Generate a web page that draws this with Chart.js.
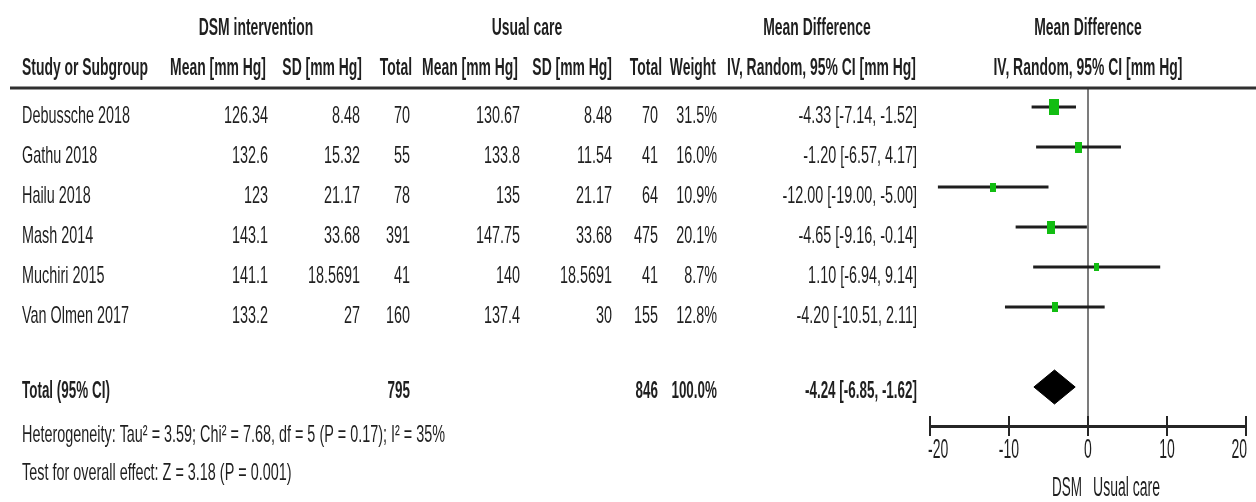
<!DOCTYPE html>
<html>
<head>
<meta charset="utf-8">
<title>DSM intervention vs usual care – mean difference</title>
<script src="https://cdn.jsdelivr.net/npm/chart.js@4.4.1/dist/chart.umd.min.js"></script>
<style>
  html, body { margin: 0; padding: 0; background: #ffffff; }
  #wrap { width: 1256px; height: 502px; position: relative; }
</style>
</head>
<body>
<div id="wrap"><canvas id="forest" width="1256" height="502"></canvas></div>
<script>
// ---- Study data (systolic blood pressure, mm Hg) ----
const studies   = ['Debussche 2018', 'Gathu 2018', 'Hailu 2018', 'Mash 2014', 'Muchiri 2015', 'Van Olmen 2017'];
const dsmMean   = ['126.34', '132.6', '123', '143.1', '141.1', '133.2'];
const dsmSD     = ['8.48', '15.32', '21.17', '33.68', '18.5691', '27'];
const dsmTotal  = [70, 55, 78, 391, 41, 160];
const ucMean    = ['130.67', '133.8', '135', '147.75', '140', '137.4'];
const ucSD      = ['8.48', '11.54', '21.17', '33.68', '18.5691', '30'];
const ucTotal   = [70, 41, 64, 475, 41, 155];
const weights   = [31.5, 16.0, 10.9, 20.1, 8.7, 12.8];
const md        = [-4.33, -1.20, -12.00, -4.65, 1.10, -4.20];
const ciLow     = [-7.14, -6.57, -19.00, -9.16, -6.94, -10.51];
const ciHigh    = [-1.52, 4.17, -5.00, -0.14, 9.14, 2.11];

// ---- Pooled estimate ----
const pooledDsmTotal = 795;
const pooledUcTotal  = 846;
const pooledWeight   = 100.0;
const pooledMD       = -4.24;
const pooledLow      = -6.85;
const pooledHigh     = -1.62;

// ---- Axis ----
const xTicks = [-20, -10, 0, 10, 20];
const favoursLeft  = 'DSM';
const favoursRight = 'Usual care';

const heterogeneityText = 'Heterogeneity: Tau² = 3.59; Chi² = 7.68, df = 5 (P = 0.17); I² = 35%';
const overallText       = 'Test for overall effect: Z = 3.18 (P = 0.001)';

// ---- Styling ----
const TEXT = '#1f1f1f';
const GREEN = '#12bd12';
const FONT = '"Liberation Sans", Arial, sans-serif';
const TOTAL_ROW = 7;          // y position of the pooled row
const DIAMOND_HALF = 0.425;   // half height of the pooled diamond, in row units

function fmt2(v) { return v.toFixed(2); }
function ciText(m, lo, hi) { return fmt2(m) + ' [' + fmt2(lo) + ', ' + fmt2(hi) + ']'; }

// green weight boxes: area grows with the study weight
function weightBox(w) {
  const h = Math.round(2.8 * Math.sqrt(w));
  const wd = Math.max(5, Math.round(1.7 * Math.sqrt(w)));
  const c = document.createElement('canvas');
  c.width = wd; c.height = h;
  const g = c.getContext('2d');
  g.fillStyle = GREEN;
  g.fillRect(0, 0, wd, h);
  return c;
}

// condensed text helper
function txt(ctx, s, x, y, align, size, bold, sx) {
  ctx.save();
  ctx.font = (bold ? 'bold ' : '') + size + 'px ' + FONT;
  ctx.textBaseline = 'middle';
  ctx.textAlign = 'left';
  ctx.fillStyle = TEXT;
  const w = ctx.measureText(s).width * sx;
  const x0 = align === 'right' ? x - w : (align === 'center' ? x - w / 2 : x);
  ctx.translate(x0, y);
  ctx.scale(sx, 1);
  ctx.fillText(s, 0, 0);
  ctx.restore();
}

const tablePlugin = {
  id: 'forestTable',
  afterDraw(chart) {
    const ctx = chart.ctx;
    const xs = chart.scales.x;
    const ys = chart.scales.y;
    const area = chart.chartArea;
    const zero = xs.getPixelForValue(0);
    const HS = 24, HX = 0.58;   // header font
    const RS = 24, RX = 0.6;    // row font

    // column headers
    txt(ctx, 'DSM intervention', 256, 28, 'center', HS, true, HX);
    txt(ctx, 'Usual care', 527, 28, 'center', HS, true, HX);
    txt(ctx, 'Mean Difference', 817, 28, 'center', HS, true, HX);
    txt(ctx, 'Mean Difference', zero, 28, 'center', HS, true, HX);

    const hy = 68;
    txt(ctx, 'Study or Subgroup', 22, hy, 'left', HS, true, HX);
    txt(ctx, 'Mean [mm Hg]', 266, hy, 'right', HS, true, HX);
    txt(ctx, 'SD [mm Hg]', 362, hy, 'right', HS, true, HX);
    txt(ctx, 'Total', 412, hy, 'right', HS, true, HX);
    txt(ctx, 'Mean [mm Hg]', 518, hy, 'right', HS, true, HX);
    txt(ctx, 'SD [mm Hg]', 612, hy, 'right', HS, true, HX);
    txt(ctx, 'Total', 662, hy, 'right', HS, true, HX);
    txt(ctx, 'Weight', 716, hy, 'right', HS, true, HX);
    txt(ctx, 'IV, Random, 95% CI [mm Hg]', 916, hy, 'right', HS, true, HX);
    txt(ctx, 'IV, Random, 95% CI [mm Hg]', zero, hy, 'center', HS, true, HX);

    // rule under the headers
    ctx.save();
    ctx.strokeStyle = '#303030';
    ctx.lineWidth = 3;
    ctx.beginPath();
    ctx.moveTo(10, area.top);
    ctx.lineTo(1256, area.top);
    ctx.stroke();
    ctx.restore();

    // study rows
    studies.forEach((name, i) => {
      const y = ys.getPixelForValue(i) + 9;
      txt(ctx, name, 22, y, 'left', RS, false, RX);
      txt(ctx, dsmMean[i], 268, y, 'right', RS, false, RX);
      txt(ctx, dsmSD[i], 360, y, 'right', RS, false, RX);
      txt(ctx, String(dsmTotal[i]), 410, y, 'right', RS, false, RX);
      txt(ctx, ucMean[i], 520, y, 'right', RS, false, RX);
      txt(ctx, ucSD[i], 612, y, 'right', RS, false, RX);
      txt(ctx, String(ucTotal[i]), 658, y, 'right', RS, false, RX);
      txt(ctx, weights[i].toFixed(1) + '%', 717, y, 'right', RS, false, RX);
      txt(ctx, ciText(md[i], ciLow[i], ciHigh[i]), 917, y, 'right', RS, false, RX);
    });

    // pooled row
    const ty = ys.getPixelForValue(TOTAL_ROW) + 4;
    txt(ctx, 'Total (95% CI)', 22, ty, 'left', RS, true, 0.56);
    txt(ctx, String(pooledDsmTotal), 410, ty, 'right', RS, true, 0.56);
    txt(ctx, String(pooledUcTotal), 658, ty, 'right', RS, true, 0.56);
    txt(ctx, pooledWeight.toFixed(1) + '%', 717, ty, 'right', RS, true, 0.56);
    txt(ctx, ciText(pooledMD, pooledLow, pooledHigh), 917, ty, 'right', RS, true, 0.56);

    // footnotes
    txt(ctx, heterogeneityText, 22, 435, 'left', 24, false, 0.6);
    txt(ctx, overallText, 22, 473, 'left', 24, false, 0.6);

    // axis tick marks crossing the axis line, and tick labels
    const ay = area.bottom;
    ctx.save();
    ctx.strokeStyle = '#262626';
    ctx.lineWidth = 2;
    xTicks.forEach(v => {
      const px = xs.getPixelForValue(v);
      ctx.beginPath();
      ctx.moveTo(px, ay - 10);
      ctx.lineTo(px, ay + 10);
      ctx.stroke();
    });
    ctx.restore();
    xTicks.forEach((v, k) => {
      const px = xs.getPixelForValue(v);
      const align = k === 0 ? 'left' : (k === xTicks.length - 1 ? 'right' : 'center');
      txt(ctx, String(v), px + (k === 0 ? -2 : (k === xTicks.length - 1 ? 1 : 0)), ay + 25, align, 27, false, 0.52);
    });

    // favours labels
    txt(ctx, favoursLeft, zero - 6, ay + 63, 'right', 27, false, 0.5);
    txt(ctx, favoursRight, zero + 5, ay + 63, 'left', 27, false, 0.52);
  }
};

// confidence-interval whiskers, one line dataset per study
const ciSets = studies.map((s, i) => ({
  type: 'line',
  label: s + ' 95% CI',
  data: [{ x: ciLow[i], y: i }, { x: ciHigh[i], y: i }],
  borderColor: '#1e1e1e',
  borderWidth: 3,
  pointRadius: 0,
  fill: false
}));

// point estimates drawn as weight-scaled boxes
const pointSet = {
  type: 'scatter',
  label: 'Mean difference',
  data: md.map((v, i) => ({ x: v, y: i })),
  pointStyle: weights.map(weightBox),
  pointRadius: 6
};

// pooled estimate diamond
const diamondSet = {
  type: 'line',
  label: 'Total (95% CI)',
  data: [
    { x: pooledLow,  y: TOTAL_ROW },
    { x: pooledMD,   y: TOTAL_ROW - DIAMOND_HALF },
    { x: pooledHigh, y: TOTAL_ROW },
    { x: pooledMD,   y: TOTAL_ROW + DIAMOND_HALF },
    { x: pooledLow,  y: TOTAL_ROW }
  ],
  borderColor: '#000000',
  backgroundColor: '#000000',
  borderWidth: 1,
  pointRadius: 0,
  tension: 0,
  fill: 'shape'
};

new Chart(document.getElementById('forest'), {
  type: 'scatter',
  data: { datasets: [pointSet, ...ciSets, diamondSet] },
  options: {
    responsive: false,
    animation: false,
    events: [],
    layout: { padding: { left: 930, right: 10, top: 88, bottom: 76 } },
    plugins: { legend: { display: false }, tooltip: { enabled: false } },
    scales: {
      x: {
        type: 'linear',
        min: xTicks[0],
        max: xTicks[xTicks.length - 1],
        ticks: { stepSize: 10, display: false },
        grid: {
          drawTicks: false,
          lineWidth: 2,
          color: c => (c.tick && c.tick.value === 0) ? '#7c7c7c' : 'rgba(0,0,0,0)'
        },
        border: { display: true, color: '#262626', width: 3 }
      },
      y: {
        type: 'linear',
        display: false,
        reverse: true,
        min: -0.475,
        max: 7.975
      }
    }
  },
  plugins: [tablePlugin]
});
</script>
</body>
</html>
